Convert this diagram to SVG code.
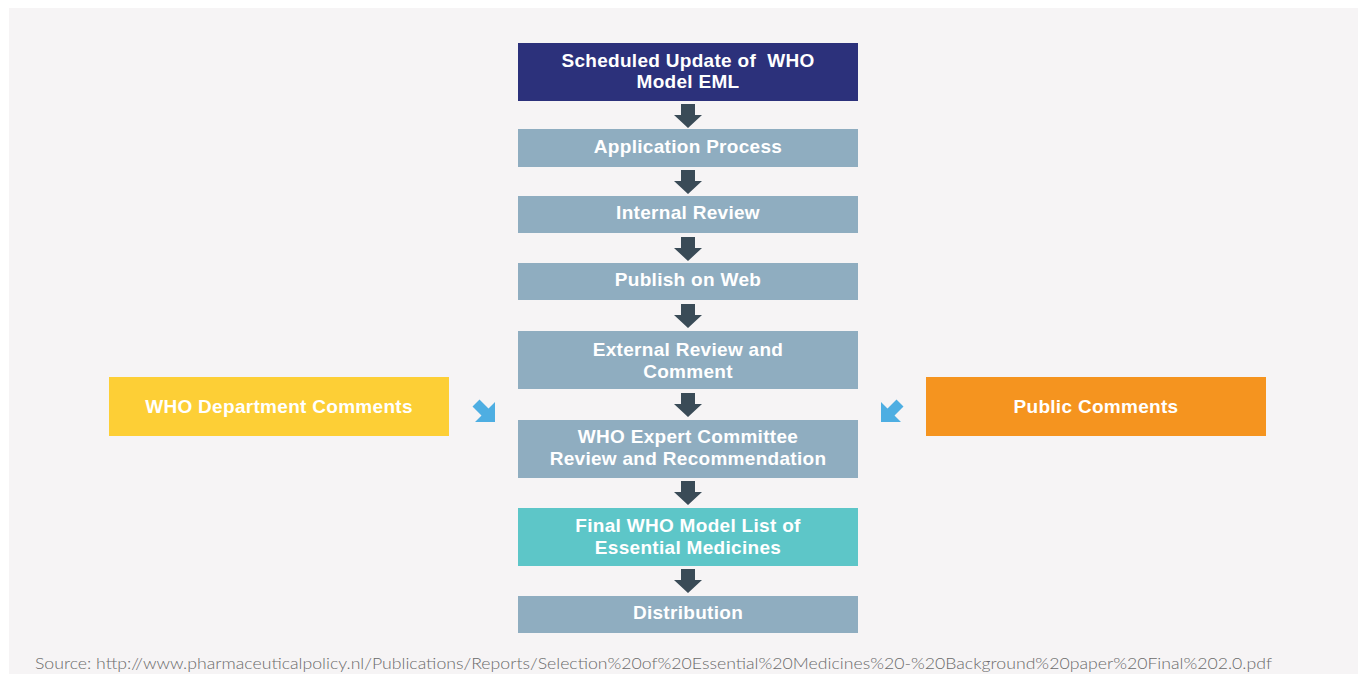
<svg xmlns="http://www.w3.org/2000/svg" width="1358" height="674" viewBox="0 0 1358 674">
  <style>
    .lbl { font-family: "Liberation Sans", Arial, sans-serif; font-weight: 700; font-size: 19px; letter-spacing: 0.3px; fill: #ffffff; text-anchor: middle; white-space: pre; }
    .step { fill: #8fadc0; }
    .src { font-family: "Lato", "Liberation Sans", sans-serif; font-weight: 300; font-size: 15px; fill: #6b6b6b; }
  </style>
  <defs>
    <!-- downward block arrow, 28 wide x 24 tall, origin at top centre -->
    <polygon id="down" points="-7,0 7,0 7,11 14,11 0,24 -14,11 -7,11" fill="#3a4b57"/>
  </defs>

  <rect x="0" y="0" width="1358" height="674" fill="#ffffff"/>
  <rect x="9" y="8" width="1349" height="666" fill="#f6f4f5"/>

  <g id="connectors">
    <use href="#down" x="688" y="104"/>
    <use href="#down" x="688" y="170"/>
    <use href="#down" x="688" y="237"/>
    <use href="#down" x="688" y="304"/>
    <use href="#down" x="688" y="393"/>
    <use href="#down" x="688" y="481"/>
    <use href="#down" x="688" y="569"/>
    <polygon points="495,422 475,422 481.5,415.5 472.5,406.5 479.5,399.5 488.5,408.5 495,402" fill="#4eaee2"/>
    <polygon points="881,422 901,422 894.5,415.5 903.5,406.5 896.5,399.5 887.5,408.5 881,402" fill="#4eaee2"/>
  </g>

  <g id="scheduled-update">
    <rect x="518" y="43" width="340" height="58" fill="#2c317b"/>
    <text class="lbl" xml:space="preserve"><tspan x="688" y="66.5">Scheduled Update of  WHO</tspan><tspan x="688" y="88">Model EML</tspan></text>
  </g>
  <g id="application-process">
    <rect class="step" x="518" y="129" width="340" height="38"/>
    <text class="lbl" x="688" y="153">Application Process</text>
  </g>
  <g id="internal-review">
    <rect class="step" x="518" y="196" width="340" height="37"/>
    <text class="lbl" x="688" y="219">Internal Review</text>
  </g>
  <g id="publish-on-web">
    <rect class="step" x="518" y="263" width="340" height="37"/>
    <text class="lbl" x="688" y="286">Publish on Web</text>
  </g>
  <g id="external-review">
    <rect class="step" x="518" y="331" width="340" height="58"/>
    <text class="lbl"><tspan x="688" y="356">External Review and</tspan><tspan x="688" y="377.5">Comment</tspan></text>
  </g>
  <g id="expert-committee">
    <rect class="step" x="518" y="420" width="340" height="58"/>
    <text class="lbl"><tspan x="688" y="443">WHO Expert Committee</tspan><tspan x="688" y="464.5">Review and Recommendation</tspan></text>
  </g>
  <g id="final-list">
    <rect x="518" y="508" width="340" height="58" fill="#5dc6c8"/>
    <text class="lbl"><tspan x="688" y="532">Final WHO Model List of</tspan><tspan x="688" y="553.5">Essential Medicines</tspan></text>
  </g>
  <g id="distribution">
    <rect class="step" x="518" y="596" width="340" height="37"/>
    <text class="lbl" x="688" y="619">Distribution</text>
  </g>
  <g id="who-department-comments">
    <rect x="109" y="377" width="340" height="59" fill="#fdcf36"/>
    <text class="lbl" x="279" y="413">WHO Department Comments</text>
  </g>
  <g id="public-comments">
    <rect x="926" y="377" width="340" height="59" fill="#f5941f"/>
    <text class="lbl" x="1096" y="413">Public Comments</text>
  </g>

  <text class="src" x="35" y="669" textLength="1237" lengthAdjust="spacingAndGlyphs">Source: http://www.pharmaceuticalpolicy.nl/Publications/Reports/Selection%20of%20Essential%20Medicines%20-%20Background%20paper%20Final%202.0.pdf</text>
</svg>
